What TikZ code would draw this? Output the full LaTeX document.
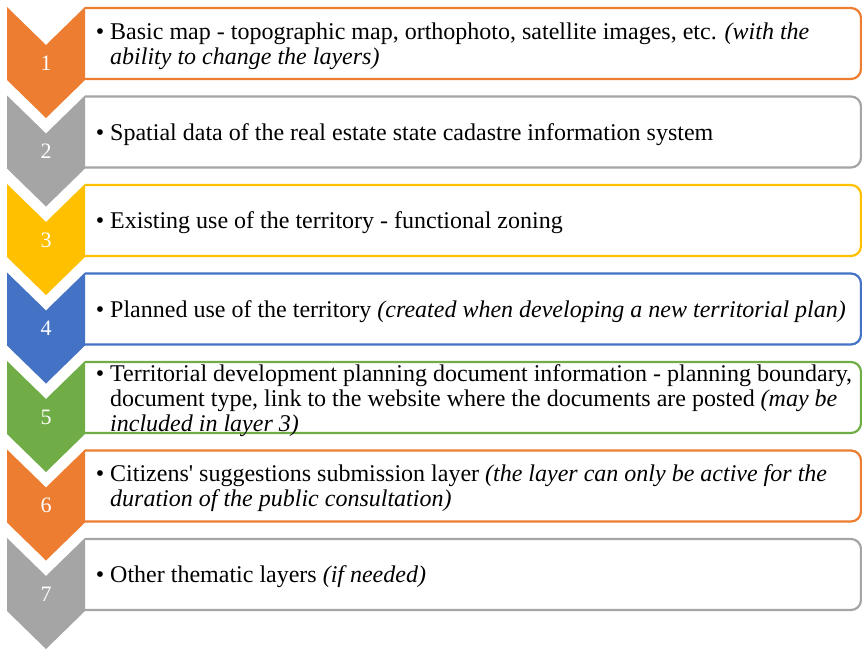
\documentclass[tikz,border=0pt]{standalone}
\usepackage{fontspec}
\setmainfont{Liberation Serif}
\definecolor{cOrange}{HTML}{ED7D31}
\definecolor{cGray}{HTML}{A5A5A5}
\definecolor{cGold}{HTML}{FFC000}
\definecolor{cBlue}{HTML}{4472C4}
\definecolor{cGreen}{HTML}{70AD47}
\begin{document}
\begin{tikzpicture}[x=1pt,y=-1pt,
  layerbox/.style={draw=#1,line width=2.2pt,fill=white,rounded corners=10pt},
  chevron/.style={fill=#1,draw=none},
  numtext/.style={text=white,font=\fontsize{22}{24}\selectfont,inner sep=0pt},
  itemtext/.style={anchor=west,align=left,inner sep=0pt,text=black,
    font=\fontsize{24}{25}\selectfont}]
\useasboundingbox (0,0) rectangle (862,649);
\newcommand{\bul}{\llap{\textbullet\hspace{6pt}}}
% boxes and chevrons, one row per layer
\foreach \i/\col in {1/cOrange,2/cGray,3/cGold,4/cBlue,5/cGreen,6/cOrange,7/cGray}{
  \pgfmathsetmacro{\yo}{7+88.5*(\i-1)}
  \draw[layerbox=\col] (85,\yo+1) -- (861,\yo+1) -- (861,\yo+72) -- (85,\yo+72);
  \fill[chevron=\col] (7,\yo) -- (46,\yo+38) -- (85,\yo) -- (85,\yo+73)
     -- (46,\yo+111) -- (7,\yo+73) -- cycle;
  \node[numtext] (num\i) at (46,\yo+56) {\i};
  \coordinate (row\i) at (110,\yo+39);
}
\node[itemtext] (txt1) at (row1) {\bul Basic map - topographic map, orthophoto, satellite images, etc. \textit{(with the}\\\textit{ability to change the layers)}};
\node[itemtext] (txt2) at (row2) {\bul Spatial data of the real estate state cadastre information system};
\node[itemtext] (txt3) at (row3) {\bul Existing use of the territory - functional zoning};
\node[itemtext] (txt4) at (row4) {\bul Planned use of the territory \textit{(created when developing a new territorial plan)}};
\node[itemtext] (txt5) at ([yshift=-1pt]row5) {\bul Territorial development planning document information - planning boundary,\\document type, link to the website where the documents are posted \textit{(may be}\\\textit{included in layer 3)}};
\node[itemtext] (txt6) at (row6) {\bul Citizens\textquotesingle{} suggestions submission layer \textit{(the layer can only be active for the}\\\textit{duration of the public consultation)}};
\node[itemtext] (txt7) at (row7) {\bul Other thematic layers \textit{(if needed)}};
\end{tikzpicture}
\end{document}
